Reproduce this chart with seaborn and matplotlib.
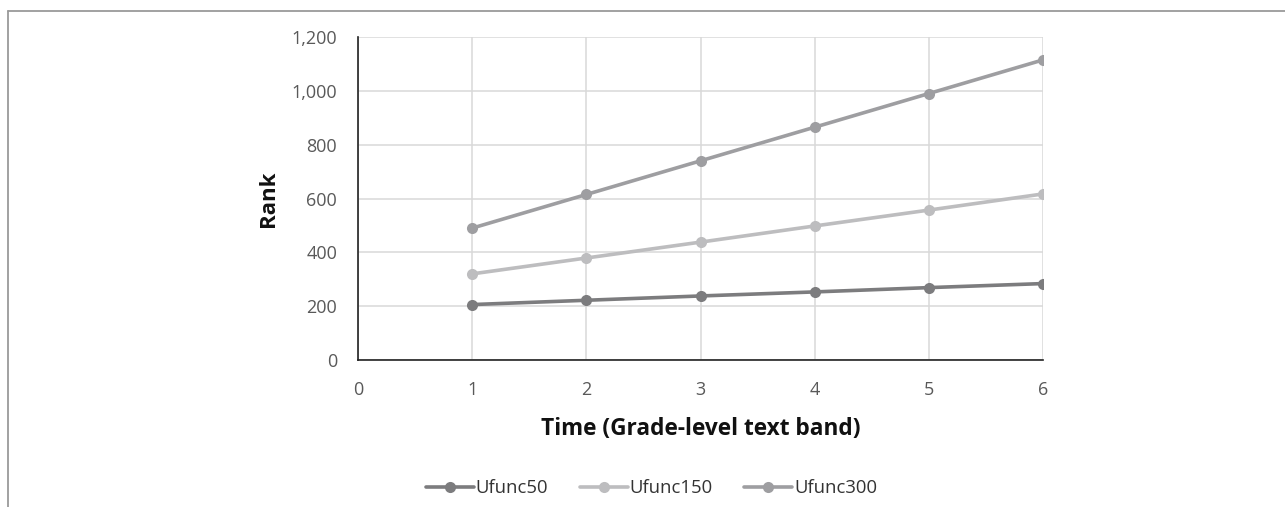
import seaborn as sns
import matplotlib.pyplot as plt
import pandas as pd
from matplotlib.lines import Line2D

time_band = [1, 2, 3, 4, 5, 6]
ufunc50 = [206, 222, 238, 253, 269, 284]
ufunc150 = [320, 379, 438, 498, 557, 617]
ufunc300 = [490, 615, 740, 865, 990, 1115]
series_names = ["Ufunc50", "Ufunc150", "Ufunc300"]
palette = {"Ufunc50": "#7c7c7e", "Ufunc150": "#bdbdbf", "Ufunc300": "#9e9ea1"}

df = pd.DataFrame({
    "Time": time_band * 3,
    "Rank": ufunc50 + ufunc150 + ufunc300,
    "Series": [s for s in series_names for _ in time_band],
})

sns.set_theme(style="white")
plt.rcParams['font.family'] = ['Open Sans', 'DejaVu Sans']

fig = plt.figure(figsize=(12.85, 5.07), dpi=100)
ax = fig.add_axes([0.2786, 0.2899, 0.8117 - 0.2786, 0.927 - 0.2899])

sns.lineplot(data=df, x="Time", y="Rank", hue="Series", hue_order=series_names,
             palette=palette, marker="o", markersize=8, markeredgewidth=0,
             linewidth=2.6, ax=ax, legend=False)

ax.set_xlim(0, 6)
ax.set_ylim(0, 1200)
ax.set_xticks(range(0, 7))
ax.set_yticks(range(0, 1201, 200))
ax.set_yticklabels([f"{v:,}" for v in range(0, 1201, 200)])
ax.grid(True, color="#d9d9d9", linewidth=1.1)
ax.set_axisbelow(True)
for side in ["top", "right"]:
    ax.spines[side].set_visible(False)
for side in ["left", "bottom"]:
    ax.spines[side].set_color("#222222")
    ax.spines[side].set_linewidth(1.2)
ax.tick_params(axis="both", length=0, labelsize=13, labelcolor="#595959")
ax.tick_params(axis="x", pad=15)
ax.tick_params(axis="y", pad=15)
ax.set_xlabel("Time (Grade-level text band)", fontsize=16.3, fontweight="bold",
              color="#111111", labelpad=13)
ax.set_ylabel("Rank", fontsize=16, fontweight="bold", color="#111111", labelpad=9)

handles = [Line2D([0], [0], color=palette[s], marker="o", markersize=8,
                  markeredgewidth=0, linewidth=2.6) for s in series_names]
fig.legend(handles, series_names, loc="center", bbox_to_anchor=(0.507, 0.037),
           ncol=3, frameon=False, fontsize=13.3, handlelength=2.6,
           handletextpad=0.1, columnspacing=1.7, labelcolor="#333333")

# outer frame (top and left edges only)
fig.add_artist(Line2D([8 / 1285, 1], [1 - 11 / 507, 1 - 11 / 507],
                      transform=fig.transFigure, color="#9a9a9a", linewidth=1.3))
fig.add_artist(Line2D([8 / 1285, 8 / 1285], [0, 1 - 11 / 507],
                      transform=fig.transFigure, color="#9a9a9a", linewidth=1.3))

fig.savefig("out.png", dpi=100)
plt.close(fig)
